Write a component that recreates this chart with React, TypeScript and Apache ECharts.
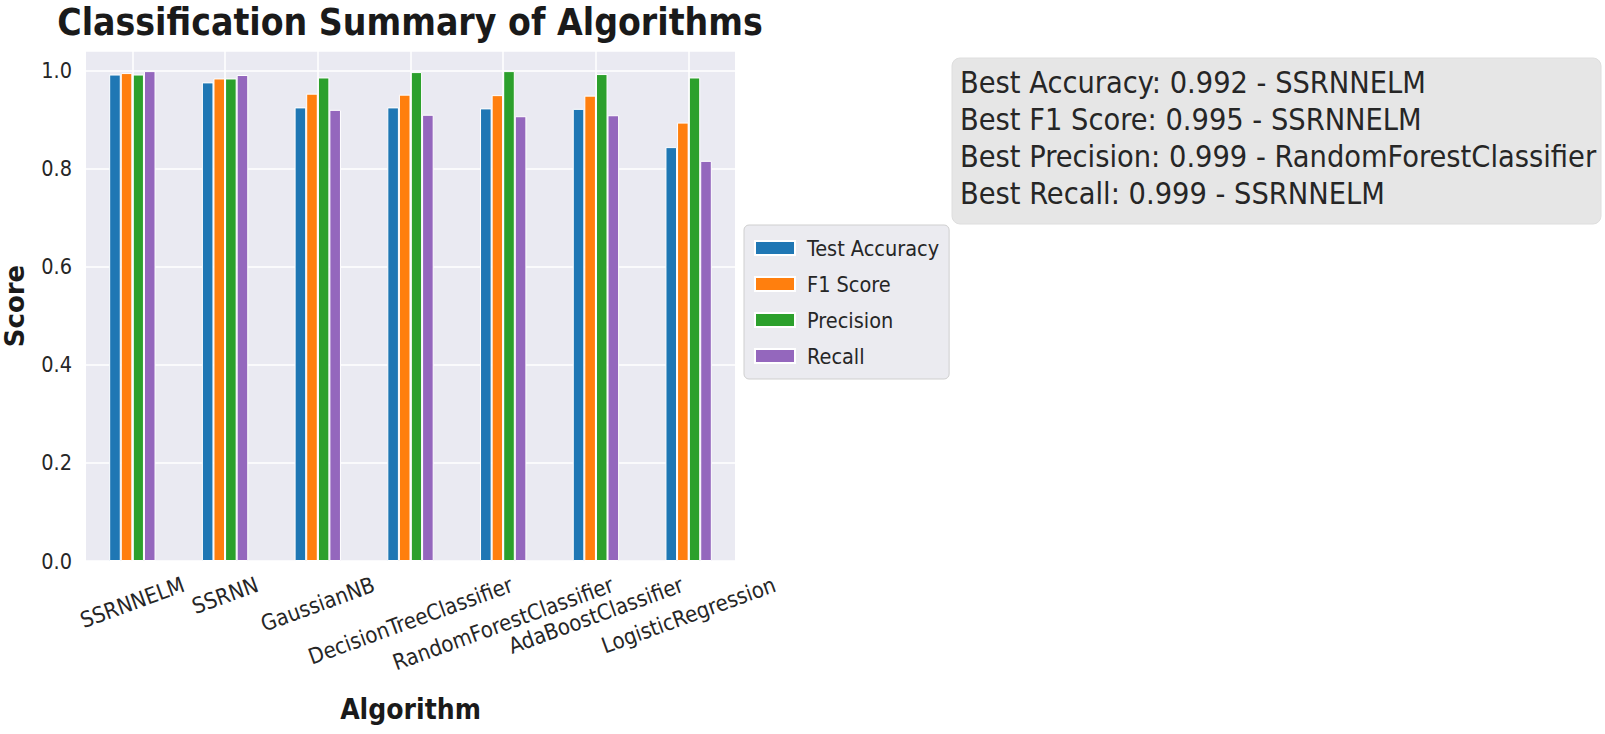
import React, { useEffect, useRef } from "react";
import * as echarts from "echarts";

const categories = [
  "SSRNNELM",
  "SSRNN",
  "GaussianNB",
  "DecisionTreeClassifier",
  "RandomForestClassifier",
  "AdaBoostClassifier",
  "LogisticRegression",
];
const testAccuracy = [0.992, 0.976, 0.925, 0.925, 0.923, 0.922, 0.844];
const f1Score = [0.995, 0.984, 0.953, 0.951, 0.95, 0.949, 0.894];
const precision = [0.992, 0.984, 0.986, 0.997, 0.999, 0.993, 0.986];
const recall = [0.999, 0.991, 0.92, 0.91, 0.907, 0.909, 0.816];
const seriesNames = ["Test Accuracy", "F1 Score", "Precision", "Recall"];
const bestLabels = ["Accuracy", "F1 Score", "Precision", "Recall"];
const yTicks = [0, 0.2, 0.4, 0.6, 0.8, 1.0];

const COLORS = ["#1f77b4", "#ff7f0e", "#2ca02c", "#9467bd"];
const FONT = "'DejaVu Sans Condensed', 'DejaVu Sans', sans-serif";
const FONT_WIDE = "'DejaVu Sans', sans-serif";
const TXT = "#262626";

export default function App() {
  const ref = useRef<HTMLDivElement>(null);
  useEffect(() => {
    if (!ref.current) return;
    const chart = echarts.init(ref.current, null, { renderer: "svg" });
    const allSeries = [testAccuracy, f1Score, precision, recall];

    // measure label widths for matplotlib-like centred rotated labels
    const cv = document.createElement("canvas");
    const ctx = cv.getContext("2d")!;
    const xFont = 22;
    ctx.font = `${xFont}px ${FONT}`;
    const ang = (20 * Math.PI) / 180;
    const rich: any = {};
    categories.forEach((c, i) => {
      const w = ctx.measureText(c).width;
      const h = xFont * 1.15;
      const D = (w * Math.sin(ang) + h * Math.cos(ang)) / 2;
      rich[`p${i}`] = {
        fontFamily: FONT,
        fontSize: xFont,
        color: TXT,
        padding: [2 * D * Math.cos(ang), 2 * D * Math.sin(ang), 0, 0],
      };
    });

    const bestLines = allSeries.map((arr, i) => {
      let bi = 0;
      arr.forEach((v, j) => {
        if (v > arr[bi]) bi = j;
      });
      return `Best ${bestLabels[i]}: ${arr[bi].toFixed(3)} - ${categories[bi]}`;
    });

    const option: any = {
      animation: false,
      backgroundColor: "#ffffff",
      title: {
        text: "Classification Summary of Algorithms",
        left: 405,
        top: -1,
        textAlign: "center",
        textStyle: {
          fontFamily: FONT,
          fontWeight: "bold",
          fontSize: 37,
          color: "#1a1a1a",
        },
      },
      legend: {
        data: seriesNames,
        orient: "vertical",
        left: 744,
        top: 225,
        padding: [12, 10, 12, 10],
        itemGap: 14,
        itemWidth: 40,
        itemHeight: 14,
        backgroundColor: "#ebebf0",
        borderColor: "#cfcfcf",
        borderWidth: 1,
        borderRadius: 5,
        icon: "rect",
        textStyle: {
          fontFamily: FONT,
          fontSize: 21.5,
          color: TXT,
          padding: [0, 0, 0, 7],
        },
      },
      grid: {
        left: 86,
        right: 870,
        top: 51,
        bottom: 173,
        containLabel: false,
        outerBoundsMode: "none",
        show: true,
        backgroundColor: "#eaeaf2",
        borderWidth: 0,
      },
      xAxis: {
        type: "category",
        data: categories,
        name: "Algorithm",
        nameLocation: "middle",
        nameGap: 134,
        nameTextStyle: { fontFamily: FONT, fontWeight: "bold", fontSize: 28, color: "#1a1a1a" },
        axisLine: { show: false },
        axisTick: { show: false },
        splitLine: { show: false },
        axisLabel: {
          interval: 0,
          rotate: 20,
          align: "center",
          verticalAlign: "middle",
          margin: 11,
          fontFamily: FONT,
          fontSize: xFont,
          color: TXT,
          hideOverlap: false,
          formatter: (v: string, idx: number) => `{p${idx}|${v}}`,
          rich,
        },
      },
      yAxis: {
        type: "value",
        min: yTicks[0],
        max: 1.04,
        interval: 0.2,
        name: "Score",
        nameLocation: "middle",
        nameGap: 58,
        nameRotate: 90,
        nameTextStyle: { fontFamily: FONT_WIDE, fontWeight: "bold", fontSize: 26, color: "#1a1a1a" },
        axisLine: { show: false },
        axisTick: { show: false },
        axisLabel: {
          fontFamily: FONT,
          fontSize: 21.5,
          color: TXT,
          margin: 14,
          showMaxLabel: false,
          formatter: (v: number) => (yTicks.some((t) => Math.abs(t - v) < 1e-9) ? v.toFixed(1) : ""),
        },
        splitLine: { show: true, lineStyle: { color: "#ffffff", width: 1.5 } },
      },
      series: [
        {
          type: "line",
          name: "_grid",
          data: [],
          z: 1,
          silent: true,
          markLine: {
            silent: true,
            symbol: "none",
            label: { show: false },
            lineStyle: { color: "#ffffff", width: 1.5, type: "solid" },
            data: categories.map((c) => ({ xAxis: c })),
          },
        },
        ...allSeries.map((arr, i) => ({
          type: "bar",
          name: seriesNames[i],
          data: arr,
          z: 2,
          barGap: "0%",
          barCategoryGap: "50%",
          itemStyle: { color: COLORS[i], borderColor: "#ffffff", borderWidth: 1 },
        })),
      ],
      graphic: [
        {
          type: "rect",
          shape: { x: 952, y: 58, width: 649, height: 166, r: 8 },
          style: { fill: "#e6e6e6", stroke: "#dedede", lineWidth: 1 },
          z: 10,
        },
        {
          type: "text",
          x: 960,
          y: 64,
          z: 11,
          style: {
            text: bestLines.join("\n"),
            font: `30.4px ${FONT}`,
            fill: TXT,
            lineHeight: 37,
            verticalAlign: "top",
          },
        },
      ],
    };
    chart.setOption(option);
    return () => chart.dispose();
  }, []);
  return (
    <div
      ref={ref}
      style={{ position: "fixed", left: 0, top: 0, width: 1605, height: 734 }}
    />
  );
}
